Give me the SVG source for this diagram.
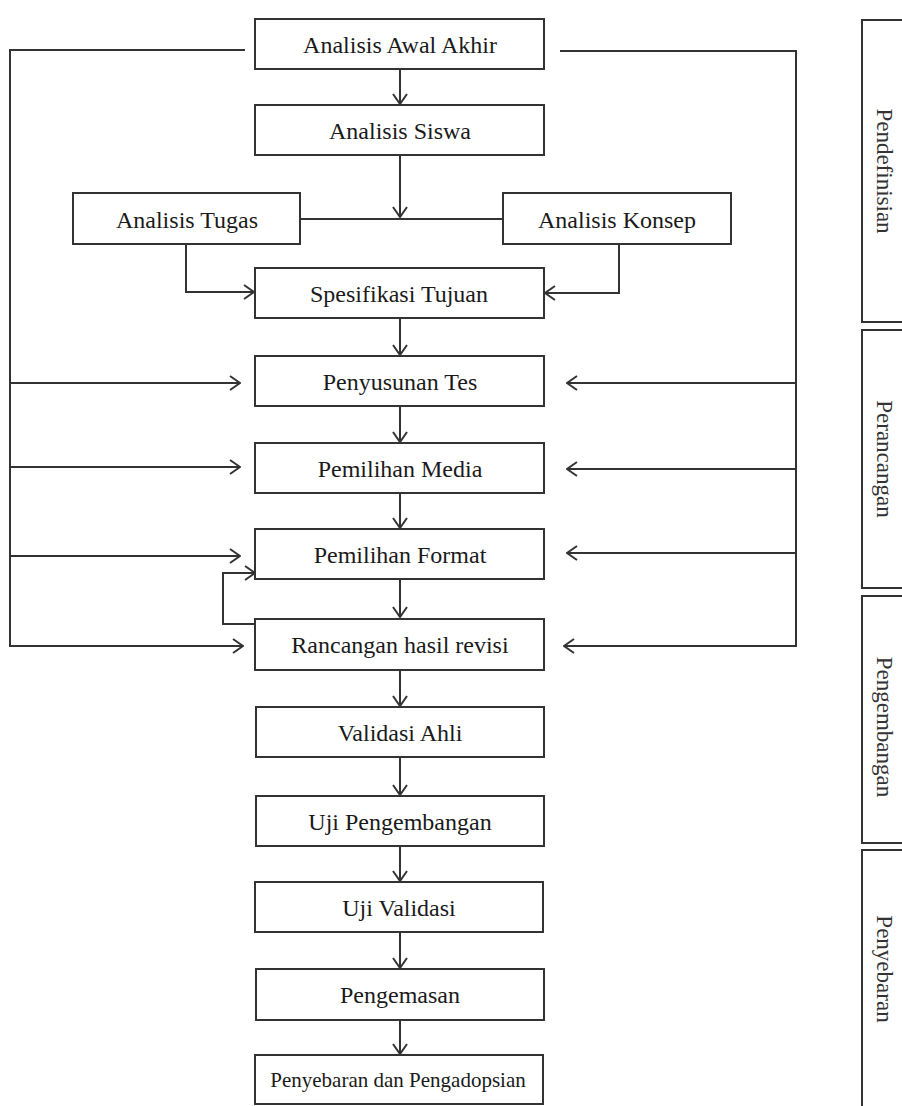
<svg xmlns="http://www.w3.org/2000/svg" width="902" height="1106" viewBox="0 0 902 1106">
<style>
.box{fill:#fff;stroke:#333;stroke-width:2}
.lbl{font-family:"Liberation Serif","Times New Roman",serif;font-size:24px;fill:#1a1a1a;text-anchor:middle}
.sm{font-size:21px}
.stage{font-family:"Liberation Serif","Times New Roman",serif;font-size:23px;fill:#333;text-anchor:middle}
.ln{fill:none;stroke:#333;stroke-width:2}
</style>
<defs>
<marker id="ah" viewBox="0 0 12 16" refX="11" refY="8" markerWidth="12" markerHeight="16" markerUnits="userSpaceOnUse" orient="auto">
<path d="M1,1 L11,8 L1,15" fill="none" stroke="#333" stroke-width="2"/>
</marker>
</defs>
<rect width="902" height="1106" fill="#fff"/>

<g id="connectors">
<!-- main vertical chain -->
<path class="ln" d="M400,69 V104" marker-end="url(#ah)"/>
<path class="ln" d="M400,155 V217" marker-end="url(#ah)"/>
<path class="ln" d="M300,219 H503"/>
<path class="ln" d="M186,244 V292 H254" marker-end="url(#ah)"/>
<path class="ln" d="M619,244 V293 H545" marker-end="url(#ah)"/>
<path class="ln" d="M400,318 V355" marker-end="url(#ah)"/>
<path class="ln" d="M400,406 V442" marker-end="url(#ah)"/>
<path class="ln" d="M400,493 V528" marker-end="url(#ah)"/>
<path class="ln" d="M400,579 V617" marker-end="url(#ah)"/>
<path class="ln" d="M400,670 V706" marker-end="url(#ah)"/>
<path class="ln" d="M400,757 V795" marker-end="url(#ah)"/>
<path class="ln" d="M400,846 V881" marker-end="url(#ah)"/>
<path class="ln" d="M400,932 V968" marker-end="url(#ah)"/>
<path class="ln" d="M400,1020 V1054" marker-end="url(#ah)"/>
<!-- left feedback -->
<path class="ln" d="M245,50 H10 V646 H243" marker-end="url(#ah)"/>
<path class="ln" d="M10,383 H240" marker-end="url(#ah)"/>
<path class="ln" d="M10,467 H240" marker-end="url(#ah)"/>
<path class="ln" d="M10,556 H240" marker-end="url(#ah)"/>
<!-- right feedback -->
<path class="ln" d="M560,51 H796 V646 H564" marker-end="url(#ah)"/>
<path class="ln" d="M796,383 H567" marker-end="url(#ah)"/>
<path class="ln" d="M796,469 H567" marker-end="url(#ah)"/>
<path class="ln" d="M796,553 H567" marker-end="url(#ah)"/>
<!-- revision loop -->
<path class="ln" d="M256,624 H223 V573 H255" marker-end="url(#ah)"/>
</g>

<g id="n-awal"><rect class="box" x="255" y="19" width="289" height="50"/><text class="lbl" x="400" y="53">Analisis Awal Akhir</text></g>
<g id="n-siswa"><rect class="box" x="255" y="105" width="289" height="50"/><text class="lbl" x="400" y="139">Analisis Siswa</text></g>
<g id="n-tugas"><rect class="box" x="73" y="193" width="227" height="51"/><text class="lbl" x="187" y="228">Analisis Tugas</text></g>
<g id="n-konsep"><rect class="box" x="503" y="193" width="228" height="51"/><text class="lbl" x="617" y="228">Analisis Konsep</text></g>
<g id="n-spesifikasi"><rect class="box" x="255" y="268" width="289" height="50"/><text class="lbl" x="399" y="302">Spesifikasi Tujuan</text></g>
<g id="n-tes"><rect class="box" x="255" y="356" width="289" height="50"/><text class="lbl" x="400" y="390">Penyusunan Tes</text></g>
<g id="n-media"><rect class="box" x="255" y="443" width="289" height="50"/><text class="lbl" x="400" y="477">Pemilihan Media</text></g>
<g id="n-format"><rect class="box" x="255" y="529" width="289" height="50"/><text class="lbl" x="400" y="563">Pemilihan Format</text></g>
<g id="n-rancangan"><rect class="box" x="255" y="619" width="289" height="51"/><text class="lbl" x="400" y="653">Rancangan hasil revisi</text></g>
<g id="n-validasi-ahli"><rect class="box" x="256" y="707" width="288" height="50"/><text class="lbl" x="400" y="741">Validasi Ahli</text></g>
<g id="n-uji-pengembangan"><rect class="box" x="256" y="796" width="288" height="50"/><text class="lbl" x="400" y="830">Uji Pengembangan</text></g>
<g id="n-uji-validasi"><rect class="box" x="255" y="882" width="288" height="50"/><text class="lbl" x="399" y="916">Uji Validasi</text></g>
<g id="n-pengemasan"><rect class="box" x="256" y="969" width="288" height="51"/><text class="lbl" x="400" y="1003">Pengemasan</text></g>
<g id="n-penyebaran"><rect class="box" x="255" y="1055" width="288" height="49"/><text class="lbl sm" x="398" y="1087">Penyebaran dan Pengadopsian</text></g>

<g id="s-pendefinisian"><rect class="box" x="862" y="20" width="50" height="302"/><text class="stage" transform="translate(877,171) rotate(90)">Pendefinisian</text></g>
<g id="s-perancangan"><rect class="box" x="862" y="330" width="50" height="258"/><text class="stage" transform="translate(877,459) rotate(90)">Perancangan</text></g>
<g id="s-pengembangan"><rect class="box" x="862" y="596" width="50" height="247"/><text class="stage" transform="translate(877,727) rotate(90)">Pengembangan</text></g>
<g id="s-penyebaran"><rect class="box" x="862" y="850" width="50" height="270"/><text class="stage" transform="translate(877,969) rotate(90)">Penyebaran</text></g>
</svg>
